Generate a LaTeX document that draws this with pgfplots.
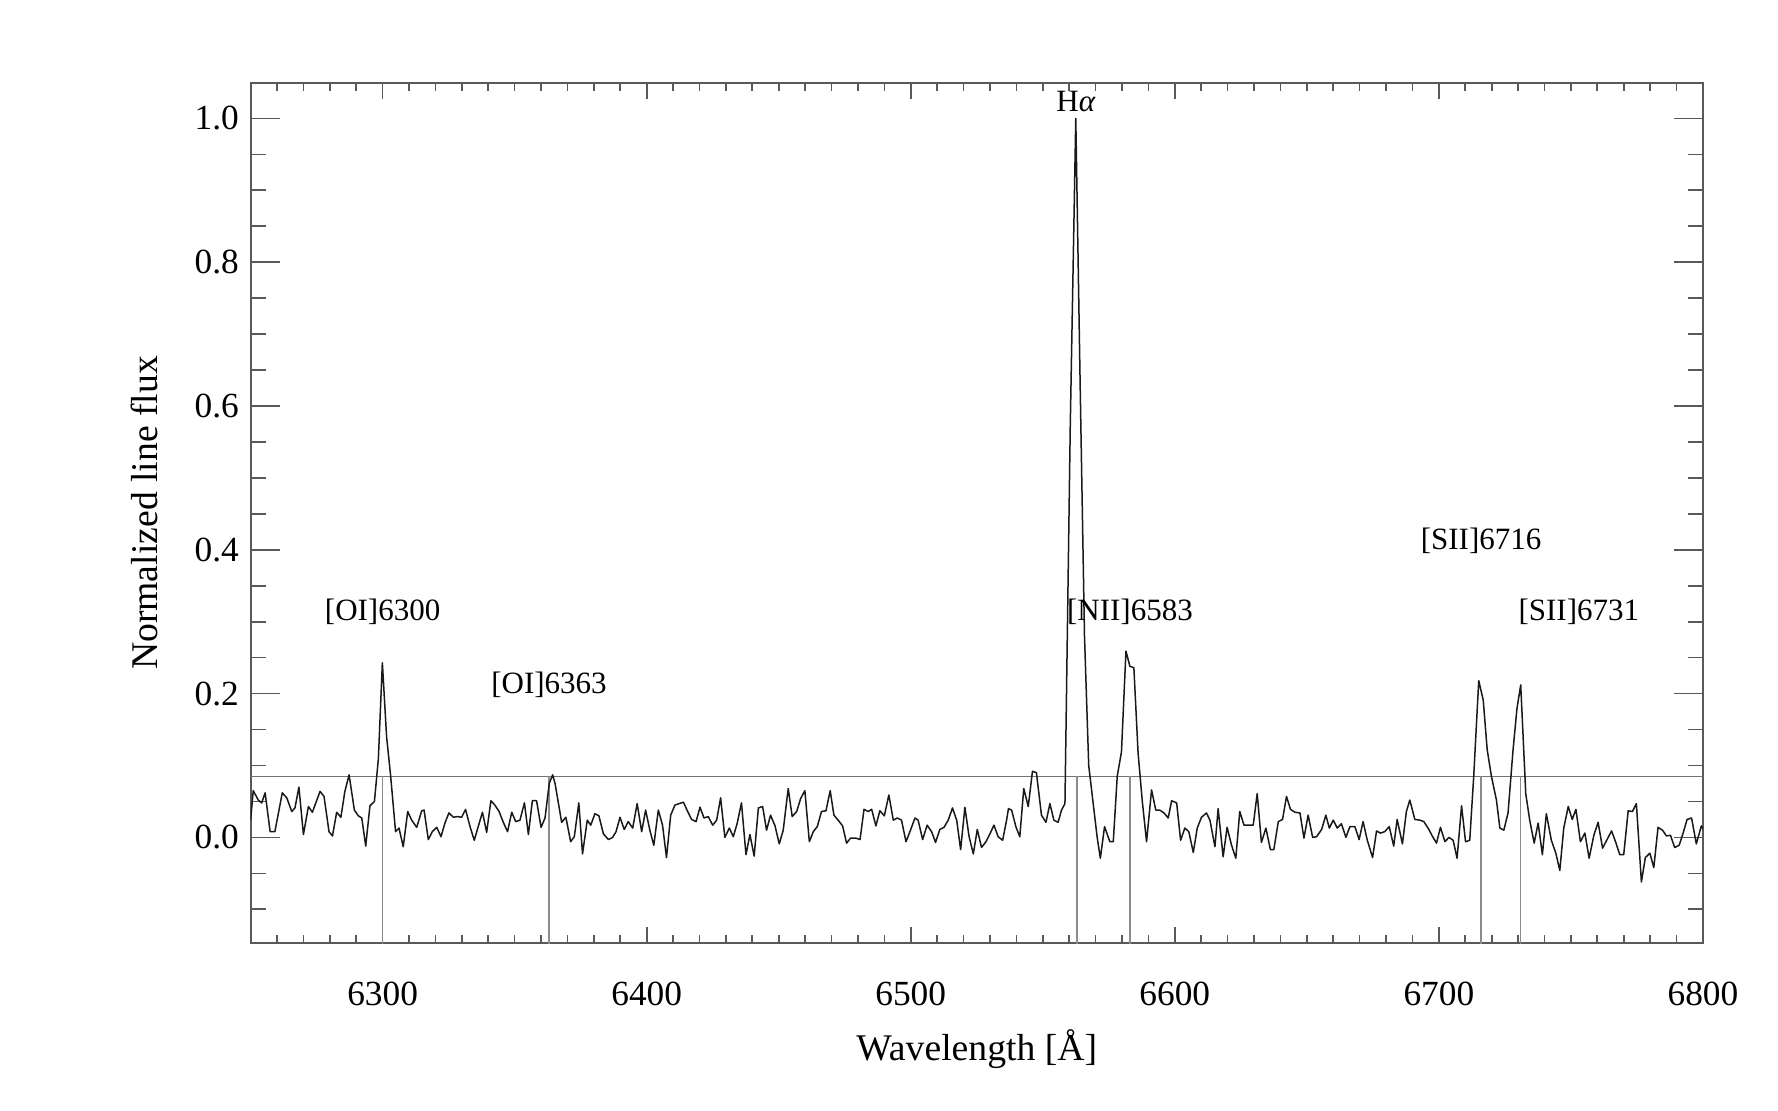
\documentclass[border=0pt]{standalone}
\usepackage{fontspec}
\setmainfont{Liberation Serif}
\usepackage{pgfplots}
\pgfplotsset{compat=1.18}
\usepackage{pgfplotstable}
\pgfplotstableread{
lam flux
6250.0 0.024
6251.0 0.065
6252.9 0.052
6254.2 0.048
6255.5 0.062
6257.4 0.008
6259.2 0.008
6262.0 0.062
6263.7 0.055
6265.6 0.036
6266.8 0.041
6268.3 0.070
6270.0 0.004
6271.9 0.043
6273.4 0.035
6276.3 0.064
6277.8 0.057
6279.7 0.008
6281.0 0.002
6282.6 0.035
6284.2 0.028
6285.7 0.064
6287.3 0.087
6289.3 0.038
6290.8 0.030
6292.1 0.027
6293.6 -0.012
6295.2 0.044
6296.9 0.050
6298.4 0.110
6299.9 0.243
6301.5 0.140
6303.0 0.087
6304.9 0.008
6306.2 0.013
6307.8 -0.013
6309.5 0.036
6311.0 0.024
6312.9 0.014
6314.8 0.037
6315.7 0.038
6317.3 -0.003
6318.8 0.008
6320.5 0.014
6322.1 0.001
6323.6 0.020
6325.1 0.034
6326.8 0.028
6328.3 0.029
6329.9 0.028
6331.4 0.039
6333.1 0.015
6334.7 -0.004
6336.2 0.015
6337.8 0.035
6339.4 0.007
6341.0 0.051
6342.5 0.045
6344.1 0.036
6345.7 0.021
6347.3 0.008
6348.9 0.035
6350.4 0.022
6352.0 0.024
6353.7 0.048
6355.2 0.004
6356.7 0.051
6358.3 0.051
6360.0 0.014
6361.5 0.027
6363.1 0.075
6364.4 0.087
6365.3 0.075
6367.8 0.021
6369.4 0.028
6371.2 -0.006
6372.6 0.001
6374.3 0.048
6375.7 -0.023
6377.5 0.024
6378.8 0.017
6380.4 0.033
6381.9 0.030
6383.6 0.005
6385.5 -0.003
6387.1 0.000
6388.4 0.008
6389.9 0.028
6391.5 0.011
6393.0 0.022
6394.7 0.013
6396.4 0.047
6398.1 0.008
6399.6 0.038
6401.2 0.010
6402.7 -0.011
6404.4 0.038
6406.0 0.017
6407.5 -0.028
6409.1 0.031
6410.7 0.045
6412.3 0.047
6413.9 0.049
6415.4 0.037
6417.0 0.025
6418.7 0.022
6420.2 0.042
6421.7 0.027
6423.3 0.029
6425.0 0.017
6426.5 0.024
6428.0 0.055
6429.6 0.000
6431.3 0.013
6432.8 0.001
6434.3 0.020
6435.9 0.048
6437.6 -0.024
6439.1 0.004
6440.7 -0.026
6442.3 0.041
6443.9 0.043
6445.4 0.010
6446.9 0.031
6448.6 0.016
6450.2 -0.009
6451.7 0.010
6453.6 0.068
6455.1 0.029
6456.8 0.036
6458.3 0.054
6459.9 0.065
6461.6 -0.006
6463.1 0.008
6464.6 0.015
6466.2 0.036
6467.9 0.037
6469.5 0.065
6470.9 0.031
6472.5 0.024
6474.2 0.016
6475.7 -0.008
6477.2 -0.001
6479.2 -0.001
6480.8 -0.003
6482.3 0.039
6483.9 0.036
6485.2 0.039
6486.8 0.016
6488.3 0.037
6490.0 0.030
6491.7 0.059
6493.4 0.024
6494.9 0.027
6496.5 0.024
6498.2 -0.006
6499.9 0.010
6501.6 0.027
6502.8 0.024
6504.5 -0.003
6506.2 0.017
6507.9 0.008
6509.4 -0.007
6511.0 0.011
6512.6 0.014
6514.2 0.024
6515.8 0.041
6517.4 0.024
6518.9 -0.017
6520.5 0.042
6522.1 0.001
6523.7 -0.023
6525.2 0.011
6526.8 -0.014
6528.5 -0.006
6530.0 0.005
6531.5 0.017
6533.1 0.001
6534.8 -0.004
6536.3 0.024
6537.0 0.040
6538.2 0.038
6539.8 0.015
6541.3 0.001
6542.8 0.068
6544.5 0.043
6546.1 0.092
6547.6 0.090
6549.5 0.031
6551.2 0.021
6552.7 0.047
6554.2 0.024
6555.8 0.021
6557.1 0.038
6558.4 0.047
6560.4 0.570
6562.5 1.000
6564.2 0.620
6565.8 0.280
6567.4 0.100
6569.0 0.050
6570.6 0.000
6571.8 -0.029
6573.4 0.015
6575.4 -0.006
6576.7 -0.006
6578.2 0.085
6579.8 0.119
6581.5 0.259
6583.0 0.238
6584.5 0.236
6586.1 0.117
6587.7 0.050
6589.3 -0.006
6591.2 0.066
6592.8 0.038
6594.3 0.038
6595.9 0.034
6597.5 0.027
6598.8 0.051
6600.7 0.048
6602.2 -0.004
6603.8 0.013
6605.3 0.008
6607.0 -0.021
6608.5 0.013
6610.1 0.028
6612.0 0.034
6613.3 0.024
6615.2 -0.013
6616.4 0.040
6618.3 -0.027
6619.8 0.014
6621.5 -0.011
6623.1 -0.029
6624.6 0.036
6626.2 0.017
6627.8 0.017
6629.7 0.017
6631.2 0.061
6632.8 -0.007
6634.5 0.013
6636.2 -0.017
6637.5 -0.017
6639.2 0.022
6640.8 0.025
6642.3 0.057
6643.8 0.039
6645.5 0.035
6647.4 0.034
6648.9 -0.001
6650.5 0.031
6652.2 0.000
6653.7 0.001
6655.6 0.011
6657.2 0.031
6658.5 0.013
6660.0 0.024
6661.5 0.013
6663.1 0.019
6664.8 0.000
6666.3 0.015
6668.2 0.015
6669.8 -0.003
6671.3 0.022
6672.9 -0.004
6674.9 -0.028
6676.4 0.009
6677.9 0.006
6679.5 0.008
6681.2 0.015
6682.9 -0.012
6684.2 0.025
6686.2 -0.009
6687.7 0.036
6689.0 0.052
6690.9 0.025
6692.8 0.024
6694.3 0.022
6695.9 0.013
6697.5 0.002
6699.1 -0.008
6700.6 0.014
6702.3 -0.006
6703.8 0.000
6705.4 -0.004
6706.9 -0.029
6708.6 0.044
6710.1 -0.006
6711.7 -0.004
6713.2 0.085
6715.1 0.218
6716.8 0.191
6718.3 0.122
6719.9 0.085
6721.8 0.052
6723.1 0.013
6724.6 0.010
6726.2 0.034
6728.1 0.122
6729.6 0.180
6731.0 0.212
6732.9 0.061
6734.4 0.024
6736.1 -0.008
6737.6 0.020
6739.2 -0.024
6740.7 0.033
6742.6 -0.004
6744.3 -0.022
6745.8 -0.046
6747.3 0.013
6749.0 0.043
6750.5 0.025
6751.9 0.039
6753.6 -0.006
6755.3 0.006
6756.9 -0.029
6758.7 0.003
6760.3 0.021
6762.0 -0.015
6763.7 -0.003
6765.4 0.009
6767.0 -0.007
6768.5 -0.024
6770.0 -0.024
6771.7 0.037
6773.3 0.036
6774.8 0.047
6776.7 -0.062
6778.2 -0.028
6779.9 -0.022
6781.4 -0.042
6783.0 0.014
6784.7 0.010
6786.2 0.002
6787.7 0.003
6789.3 -0.014
6791.0 -0.011
6792.5 0.006
6794.0 0.025
6795.7 0.027
6797.5 -0.009
6799.4 0.016
6800.0 0.012
}\spec

\begin{document}
\begin{tikzpicture}
\useasboundingbox (0,0) rectangle (533.4pt,333.3pt);
\begin{axis}[
  at={(75.18pt,50.28pt)}, anchor=south west,
  scale only axis, width=435.7pt, height=258.2pt,
  xmin=6250, xmax=6800, ymin=-0.1474, ymax=1.0497,
  xtick={6300,6400,6500,6600,6700,6800},
  minor xtick={6260,6270,...,6790},
  ytick={0,0.2,0.4,0.6,0.8,1.0},
  minor ytick={-0.1,-0.05,0.05,0.1,0.15,0.25,0.3,0.35,0.45,0.5,0.55,0.65,0.7,0.75,0.85,0.9,0.95},
  tick align=inside,
  xtick style={draw=black!65, line width=0.5pt, /pgfplots/major tick length=5pt, /pgfplots/minor tick length=2.5pt},
  ytick style={draw=black!65, line width=0.5pt, /pgfplots/major tick length=8.8pt, /pgfplots/minor tick length=4.5pt},
  axis line style={draw=black!65, line width=0.6pt},
  /pgf/number format/assume math mode=true,
  x tick label style={/pgf/number format/1000 sep={}, anchor=center, yshift=-15.3pt, font=\fontsize{10.6}{12}\selectfont},
  y tick label style={/pgf/number format/.cd, fixed, fixed zerofill, precision=1, /tikz/.cd, font=\fontsize{10.6}{12}\selectfont},
  xlabel={Wavelength [Å]},
  ylabel={Normalized line flux},
  xlabel style={at={(axis description cs:0.5,-0.1228)}, anchor=center, font=\fontsize{11.3}{13}\selectfont},
  ylabel style={at={(axis description cs:-0.0734,0.5)}, anchor=center, font=\fontsize{11.3}{13}\selectfont},
  clip=true,
]
\addplot[color=black!55, line width=0.45pt] coordinates {(6250,0.085) (6800,0.085)};
\addplot[color=black!45, line width=0.45pt] coordinates {(6300,-0.2) (6300,0.085)};
\addplot[color=black!45, line width=0.45pt] coordinates {(6363,-0.2) (6363,0.085)};
\addplot[color=black!45, line width=0.45pt] coordinates {(6563,-0.2) (6563,0.085)};
\addplot[color=black!45, line width=0.45pt] coordinates {(6583,-0.2) (6583,0.085)};
\addplot[color=black!45, line width=0.45pt] coordinates {(6716,-0.2) (6716,0.085)};
\addplot[color=black!45, line width=0.45pt] coordinates {(6731,-0.2) (6731,0.085)};
\addplot[color=black!90, line width=0.45pt, line join=round] table[x=lam, y=flux] {\spec};
\begin{scope}[every node/.style={font=\fontsize{9.3}{11}\selectfont, inner sep=0pt}]
\node at (axis cs:6300,0.314) {[OI]6300};
\node at (axis cs:6363,0.212) {[OI]6363};
\node at (axis cs:6562.6,1.024) {H\textit{α}};
\node at (axis cs:6583,0.314) {[NII]6583};
\node at (axis cs:6716,0.413) {[SII]6716};
\node at (axis cs:6753,0.314) {[SII]6731};
\end{scope}
\end{axis}
\end{tikzpicture}
\end{document}
